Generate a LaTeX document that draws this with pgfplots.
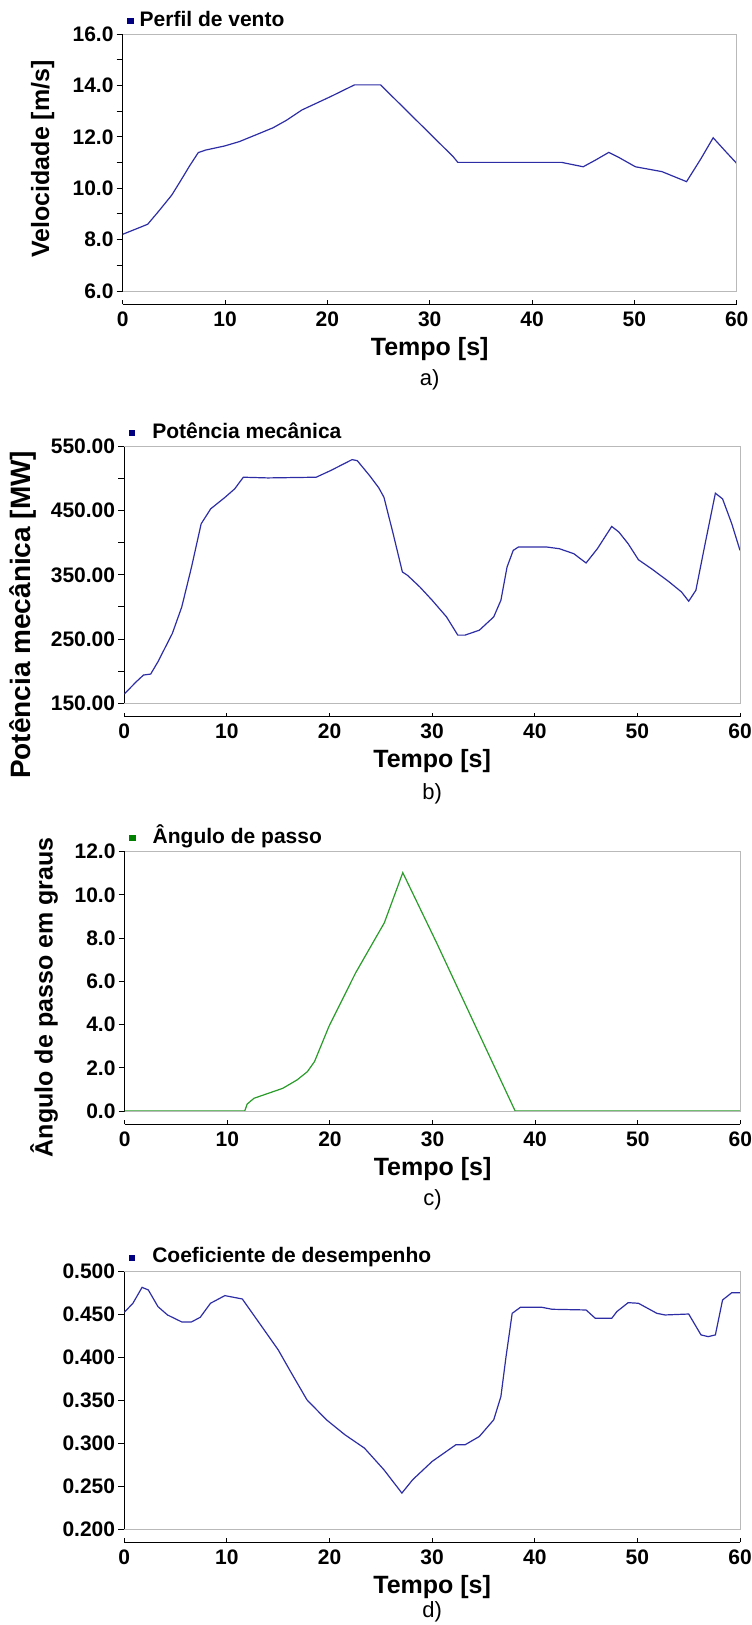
\documentclass[border=0pt]{standalone}
\usepackage{fontspec}
\setmainfont{Liberation Sans}
\usepackage{pgfplots}
\pgfplotsset{compat=1.18}
\definecolor{lineblue}{RGB}{45,45,165}
\definecolor{legblue}{RGB}{0,0,128}
\definecolor{linegreen}{RGB}{40,155,40}
\definecolor{leggreen}{RGB}{0,128,0}
\definecolor{framegray}{RGB}{185,185,185}
\newcommand\tickfont{\fontsize{21bp}{21bp}\selectfont\bfseries}
\newcommand\labfont{\fontsize{25bp}{25bp}\selectfont\bfseries}
\newcommand\capfont{\fontsize{22bp}{22bp}\selectfont}
\pgfplotsset{
  panel/.style={
    scale only axis, width=615.7bp, height=257bp,
    xmin=0, xmax=60, xtick={0,10,...,60},
    axis y line*=left, axis x line*=bottom,
    axis x line shift=13.3bp,
    axis line style={black, line width=1bp},
    tick style={black, line width=1bp},
    tick align=outside,
    major tick length=6bp, minor tick length=6bp,
    xtick style={/pgfplots/major tick length=4bp},
    xtick align=inside,
    /pgf/number format/assume math mode=true,
    ticklabel style={font=\tickfont},
    xticklabel style={inner sep=0pt, yshift=-7bp},
    yticklabel style={inner sep=0pt, xshift=-3bp},
    xlabel={Tempo [s]},
    every axis x label/.style={at={(rel axis cs:0.5,0)}, anchor=base, yshift=-64bp, font=\labfont},
    every axis y label/.style={at={(rel axis cs:0,0.5)}, rotate=90, anchor=center, font=\labfont},
    legend style={draw=none, fill=none, inner sep=0pt, outer sep=0pt,
      at={(rel axis cs:0,1)}, anchor=south west, xshift=4.5bp, yshift=8.3bp,
      font=\tickfont, cells={anchor=base west}, nodes={inner sep=0pt, text depth=0pt}},
    after end axis/.append code={
      \draw[framegray, line width=1bp] (rel axis cs:0,0) -- (rel axis cs:1,0) -- (rel axis cs:1,1) -- (rel axis cs:0,1);
    },
  },
  bluesq/.style={legend image code/.code={\fill[legblue, draw=none] (0bp,2bp) rectangle (6.5bp,8bp);}},
  greensq/.style={legend image code/.code={\fill[leggreen, draw=none] (0bp,2bp) rectangle (6.5bp,8bp);}},
}
\begin{document}
\begin{tikzpicture}
\useasboundingbox (0,0) rectangle (752bp,-1625bp);
% ---------------- a) ----------------
\begin{axis}[panel, at={(122.7bp,-291bp)}, anchor=south west, width=614bp, height=256.7bp,
  ymin=6, ymax=16, ytick={6,8,...,16}, minor ytick={7,9,...,15},
  yticklabel style={/pgf/number format/.cd, fixed, fixed zerofill, precision=1},
  ylabel={Velocidade [m/s]}, ylabel style={yshift=80bp, xshift=3.6bp},
  legend style={/tikz/column sep=6bp},
  after end axis/.append code={\node[font=\capfont, anchor=base, yshift=-94bp] at (rel axis cs:0.5,0) {a)};},
]
\addplot[lineblue, line width=1.2bp, bluesq] coordinates {
(0,8.21) (1.2,8.40) (2.44,8.60) (3.5,9.10) (4.8,9.74) (5.7,10.32) (6.5,10.85)
(7.38,11.39) (8.1,11.49) (9.96,11.65) (11.4,11.82) (13.0,12.08) (14.7,12.36)
(16.0,12.65) (17.5,13.05) (20.3,13.57) (22.65,14.03) (25.2,14.03) (32.3,11.23)
(32.75,11.01) (42.9,11.01) (45.0,10.84) (46.2,11.10) (47.5,11.40) (48.5,11.20)
(50.1,10.84) (52.7,10.65) (55.1,10.26) (56.5,11.15) (57.7,11.97) (59.0,11.40) (60,10.97)
};
\addlegendentry{Perfil de vento}
\end{axis}
% ---------------- b) ----------------
\begin{axis}[panel, at={(124.3bp,-703.3bp)}, anchor=south west,
  ymin=150, ymax=550, ytick={150,250,...,550}, minor ytick={200,300,400,500},
  yticklabel style={/pgf/number format/.cd, fixed, fixed zerofill, precision=2},
  ylabel={Potência mecânica [MW]}, ylabel style={yshift=101bp, xshift=-40bp, font=\fontsize{28bp}{28bp}\selectfont\bfseries},
  legend style={/tikz/column sep=17bp},
  after end axis/.append code={\node[font=\capfont, anchor=base, yshift=-96bp] at (rel axis cs:0.5,0) {b)};},
]
\addplot[lineblue, line width=1.2bp, bluesq] coordinates {
(0,164.5) (1.17,183.6) (1.87,194) (2.57,195.5) (3.28,214.7) (4.68,258.7) (5.6,300)
(6.55,362) (7.49,429.4) (8.42,452.7) (9.83,470.8) (10.76,483.8) (11.6,501.9)
(14.0,500.8) (18.7,501.9) (20.1,512.2) (22.2,529.3) (22.7,527.7) (23.9,504.5)
(24.8,485.3) (25.3,470.8) (26.2,413.9) (27.1,354.4) (27.6,349.2) (28.8,331.1)
(30.0,310.4) (31.4,284.5) (32.5,256.1) (33.2,256.1) (34.6,263.8) (36.0,284.5)
(36.7,310.4) (37.3,362.2) (37.9,388) (38.4,393.2) (41.2,393.2) (42.4,390.6)
(43.8,382.9) (45.0,368.4) (46.1,390.6) (47.5,425.3) (48.2,416.5) (49.1,398.4)
(50.1,373.5) (51.5,358) (53.1,338.9) (54.3,323.3) (55.0,308.9) (55.7,325.9)
(56.6,398.4) (57.6,477) (58.3,468.2) (59.2,429.4) (60,388)
};
\addlegendentry{Potência mecânica}
\end{axis}
% ---------------- c) ----------------
\begin{axis}[panel, at={(124.7bp,-1111bp)}, anchor=south west, height=259.3bp,
  ymin=0, ymax=12, ytick={0,2,...,12},
  yticklabel style={/pgf/number format/.cd, fixed, fixed zerofill, precision=1},
  ylabel={Ângulo de passo em graus}, ylabel style={yshift=80.7bp, xshift=-16bp},
  legend style={/tikz/column sep=17bp},
  after end axis/.append code={\node[font=\capfont, anchor=base, yshift=-94bp] at (rel axis cs:0.5,0) {c)};},
]
\addplot[linegreen, line width=1.2bp, greensq] coordinates {
(0,0) (11.7,0) (11.93,0.32) (12.6,0.59) (14.0,0.82) (15.4,1.05) (16.8,1.44)
(17.8,1.82) (18.5,2.29) (19.9,3.91) (22.5,6.39) (25.3,8.71) (27.1,11.03)
(30.4,7.78) (34.2,3.91) (38.05,0) (60,0)
};
\addlegendentry{Ângulo de passo}
\end{axis}
% ---------------- d) ----------------
\begin{axis}[panel, at={(124.3bp,-1529bp)}, anchor=south west, height=258bp,
  ymin=0.2, ymax=0.5, ytick={0.2,0.25,0.3,0.35,0.4,0.45,0.5},
  yticklabel style={/pgf/number format/.cd, fixed, fixed zerofill, precision=3},
  legend style={/tikz/column sep=17bp},
  after end axis/.append code={\node[font=\capfont, anchor=base, yshift=-88bp] at (rel axis cs:0.5,0) {d)};},
]
\addplot[lineblue, line width=1.2bp, bluesq] coordinates {
(0,0.452) (0.84,0.4625) (1.73,0.481) (2.34,0.478) (3.28,0.4586) (4.21,0.4489)
(5.6,0.4408) (6.55,0.4408) (7.4,0.4462) (8.4,0.4625) (9.8,0.4714) (11.5,0.4675)
(13.4,0.4354) (15.0,0.4083) (16.2,0.3831) (17.8,0.3502) (19.7,0.327) (21.5,0.3096)
(23.4,0.2941) (25.3,0.2689) (27.05,0.2418) (28.1,0.2573) (30.0,0.2786) (32.3,0.2979)
(33.2,0.2979) (34.6,0.3076) (36.0,0.327) (36.7,0.3541) (37.2,0.4005) (37.8,0.4508)
(38.6,0.4578) (40.7,0.4578) (41.7,0.4555) (45.0,0.4547) (45.9,0.445) (47.5,0.445)
(48.0,0.4528) (49.1,0.4632) (50.1,0.4625) (51.9,0.4508) (52.7,0.4489) (55.0,0.45)
(56.2,0.4257) (56.9,0.4237) (57.6,0.4257) (58.3,0.4663) (59.2,0.4748) (60,0.4748)
};
\addlegendentry{Coeficiente de desempenho}
\end{axis}
\end{tikzpicture}
\end{document}
